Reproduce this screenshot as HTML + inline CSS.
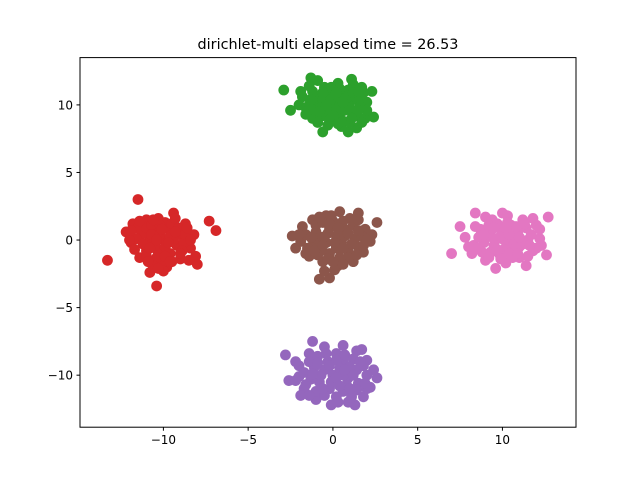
<!DOCTYPE html>
<html><head><meta charset="utf-8"><style>
body{margin:0;background:#fff}
svg{display:block;font-family:"DejaVu Sans","Liberation Sans",sans-serif}
</style></head><body>
<svg id="chart" width="640" height="480">
<rect width="640" height="480" fill="#fff"/>
<text x="328" y="49" text-anchor="middle" font-size="14.4">dirichlet-multi elapsed time = 26.53</text>
<g id="pts"></g>
<rect x="80" y="57.6" width="496" height="369.6" fill="none" stroke="#000" stroke-width="1"/>
<g id="axes"></g>
</svg>
<script>
const xTicks=[-10,-5,0,5,10];
const yTicks=[-10,-5,0,5,10];
const greenPts=[[-2.9,11.1],[-2.5,9.6],[2.4,9.1],[2.3,11],[-1.3,12],[0.9,8],[-0.6,8],[-0.9,11.8],[0.3,11.6],[1.2,11.5],[1.8,10.9],[-1.8,10.6],[-1.6,9.8],[-1.2,9],[-0.3,8.5],[0.5,8.4],[1.4,8.3],[1.9,9],[2,10.2],[-0.9,10.2],[-0.2,10.8],[0.6,10.9],[1.3,10.4],[-0.3,9.6],[0.5,9.5],[1.2,9.4],[0.1,10.1],[-0.6,9.2],[0.9,10],[-1.2,11],[0.2,9],[1.6,9.9],[-0.5,11.3],[0.9,11.1],
[-1.4,10],[-1,10.6],[-0.6,10.4],[-0.1,10.4],[0.3,10.6],[0.8,10.5],[1.2,10.9],[1.6,10.5],[-1.1,9.6],[-0.7,9.8],[-0.1,9.4],[0.3,9.7],[0.7,9.6],[1,9.8],[1.4,9.2],[-0.9,8.7],[-0.2,8.9],[0.6,8.8],[1,8.7],[-0.1,11.3],[0.4,11.2],[-1.4,11.4],[1.7,11.3],[-2,10],[2,9.6],
[-0.4,10],[0.6,10.2],[1.5,9.6],[-1.3,10.4],[0,9.2],[1.1,9],[-0.8,9.5],[0.2,10.9],[1.5,11],[-0.6,10.9],[-1.6,9.3],[1.7,8.7],[0.3,8.6],[-1.9,11],[1.1,11.9]];
const redPts=[[-13.3,-1.5],[-11.5,3],[-10.4,-3.4],[-7.3,1.4],[-6.9,0.7],[-8,-1.8],[-11.4,-1.3],[-10.8,-2.4],[-12.2,0.6],[-11.8,1.2],[-11,1.5],[-10.3,1.6],[-9.4,2],[-8.7,1.2],[-8.2,0.4],[-8.4,-0.6],[-9,-1.4],[-9.8,-2],[-11,-0.8],[-11.9,-0.2],[-10.5,0.7],[-9.7,0.8],[-9,0.4],[-10.8,0],[-10,0],[-9.2,-0.4],[-10.3,-0.9],[-9.6,-1],[-11.3,0.4],[-8.8,-0.2],[-10.1,-1.7],[-11.6,0.1],[-9.9,1.3],[-8.1,-1.2],
[-11.5,0.9],[-11,0.9],[-10.7,1.1],[-10.2,1.1],[-9.5,1.2],[-9.1,0.9],[-11.2,-0.3],[-10.5,-0.4],[-9.9,-0.5],[-9.4,0],[-8.7,0.4],[-10.7,0.4],[-10.2,0.4],[-9.6,0.3],[-11,-1.2],[-10.4,-1.3],[-9.5,-1.6],[-8.9,-0.8],[-12,0],[-11.7,-0.7],[-10.6,-1.9],[-9.3,1.6],[-8.5,-1.5],[-10,-2.3],
[-10.4,0],[-9.7,-0.2],[-9,-1],[-10.8,-0.6],[-11.4,1.4],[-10.1,0.8],[-9.3,0.6],[-10.6,1.5],[-8.6,0.9],[-9.9,-1.2],[-10.9,-1.6],[-11.9,0.7],[-8.4,0],[-9.6,-1.6],[-10.3,-2.1]];
const brownPts=[[-0.8,-2.9],[-0.2,-2.8],[2.6,1.3],[1.5,2],[-2.4,0.3],[-2.2,-0.6],[-1.8,1],[-1.2,1.5],[-0.4,1.8],[0.4,2.1],[1,1.6],[1.9,0.8],[2.2,-0.1],[1.8,-0.9],[1.2,-1.6],[0.3,-1.9],[-0.6,-1.6],[-1.4,-1.2],[-1.9,-0.1],[-1,0.6],[-0.2,0.9],[0.7,0.8],[1.3,0.1],[-1.2,-0.4],[-0.4,-0.2],[0.5,-0.1],[0.9,-0.8],[-0.2,-1],[0.2,0.3],[-0.7,-0.8],[1.5,-0.5],[0.1,-2.2],
[-1.6,0.4],[-1.5,-0.6],[-1,1.1],[-0.6,1.3],[0,1.4],[0.6,1.4],[1.2,1.1],[1.7,0.3],[1.8,-0.4],[-0.9,0.1],[-0.3,0.5],[0.2,-0.6],[0.7,0.3],[1.1,-0.3],[-0.9,-1.1],[-0.3,-1.4],[0.4,-1.3],[0.9,-1.3],[-1.6,-1],[-0.1,1.8],[1.5,1.5],[-0.5,-2.3],[0.6,-1.8],[2.3,0.4],
[-0.6,0.2],[0.1,-0.2],[0.9,0.5],[-1.3,0.2],[-0.2,1.2],[1.5,0.7],[0.3,0.9],[-1.1,-0.8],[0,-1.6],[1.4,-1.1],[-0.6,-0.4],[0.6,-0.6],[2,0],[-2,0.4],[-0.8,1.7]];
const pinkPts=[[7,-1],[12.7,1.7],[12.6,-1.1],[9.6,-2.1],[8.4,2],[11.4,-1.9],[7.5,1],[8.3,-0.4],[8.7,0.8],[9.4,1.5],[10.3,1.8],[11.2,1.5],[12,1.1],[12.2,0.1],[11.8,-0.8],[11,-1.3],[10.2,-1.7],[9,-1.5],[8.2,-1],[9.2,0.5],[10,0.6],[10.9,0.5],[11.5,0],[9.5,-0.4],[10.3,-0.3],[11,-0.5],[8.9,-0.2],[9.8,-1],[10.5,1.1],[7.8,0.2],[12.3,-0.4],[10.6,-0.9],
[8.6,0.2],[8.8,-0.9],[9.2,1.1],[9.7,1.2],[10.3,1.3],[10.8,1],[11.4,0.9],[11.7,0.4],[9.6,0],[10.1,0],[10.7,0],[11.2,-0.3],[9.3,-0.9],[10.1,-0.7],[10.8,-0.6],[9.2,-1.3],[9.9,-1.4],[10.6,-1.3],[11.5,-1.2],[8,-0.5],[12,-0.6],[9,1.7],[11.8,1.6],[10,2],
[9.9,0.3],[10.4,0.4],[9.4,0.2],[11,0.2],[9.7,-0.7],[10.4,-1],[8.9,0.4],[11.3,1.2],[8.5,-0.6],[11.6,-0.4],[10.2,0.9],[9.5,0.9],[10.9,-1],[8.4,1],[12.2,0.8]];
const purplePts=[[-2.8,-8.5],[-2.6,-10.4],[-1.2,-7.5],[2.6,-10.2],[1.3,-12.2],[-2,-9.3],[-1.4,-8.4],[-0.5,-7.9],[0.6,-7.8],[1.4,-8.2],[2,-8.9],[2.4,-9.6],[2.2,-10.9],[1.8,-11.6],[0.9,-12],[-0.1,-12.2],[-1,-11.8],[-1.7,-11],[-2,-10.1],[-1.1,-9.4],[-0.3,-9],[0.6,-9],[1.4,-9.6],[-0.8,-10.5],[0,-10],[0.9,-10.2],[1.5,-10.6],[-0.2,-11],[0.6,-11.2],[-1.3,-10.3],[0.2,-8.4],[1.1,-11.6],
[-1.7,-9.8],[-1.4,-9],[-0.9,-8.6],[-0.4,-8.4],[0.2,-8.9],[0.7,-8.5],[1.2,-8.8],[1.8,-9.3],[-1.6,-10.7],[-0.5,-9.6],[0.4,-9.5],[1,-9.4],[2,-10],[-1,-11.2],[-0.5,-11.5],[0.2,-11.6],[0.8,-10.7],[1.4,-11.1],[2,-11],[-1.9,-11.5],[-0.1,-10.5],[0.6,-10],[-2.2,-9],[1.7,-8.1],
[-0.7,-10],[0.2,-10.2],[1.2,-10],[-1.2,-9.9],[-0.2,-9.3],[0.7,-9.6],[1.6,-9],[-0.6,-11],[0.4,-10.8],[1,-11],[-1.4,-11.5],[0.3,-12],[-0.9,-9.1],[1.9,-10.6],[-2.2,-10.4]];
const seriesColors=["#2ca02c","#d62728","#8c564b","#e377c2","#9467bd"];
const seriesNames=["cluster-green","cluster-red","cluster-brown","cluster-pink","cluster-purple"];
const allSeries=[greenPts,redPts,brownPts,pinkPts,purplePts];
const X0=80,X1=576,Y0=57.6,Y1=427.2,xmin=-14.92,xmax=14.34,ymin=-13.85,ymax=13.5;
const sx=v=>X0+(v-xmin)/(xmax-xmin)*(X1-X0);
const sy=v=>Y1-(v-ymin)/(ymax-ymin)*(Y1-Y0);
const NS="http://www.w3.org/2000/svg";
const pg=document.getElementById('pts');
allSeries.forEach((s,i)=>{
  const g=document.createElementNS(NS,'g');
  
  
  s.forEach(p=>{
    const c=document.createElementNS(NS,'circle');
    c.setAttribute('cx',sx(p[0]));c.setAttribute('cy',sy(p[1]));
    c.setAttribute('r',5.4);c.setAttribute('fill',seriesColors[i]);
    
    
    g.appendChild(c);
  });
  pg.appendChild(g);
});
const ax=document.getElementById('axes');
xTicks.forEach(t=>{
  const l=document.createElementNS(NS,'line');
  l.setAttribute('x1',sx(t));l.setAttribute('x2',sx(t));l.setAttribute('y1',Y1);l.setAttribute('y2',Y1+3.5);l.setAttribute('stroke','#000');
  
  
  ax.appendChild(l);
  const tx=document.createElementNS(NS,'text');
  tx.setAttribute('x',sx(t));tx.setAttribute('y',Y1+17);tx.setAttribute('text-anchor','middle');tx.setAttribute('font-size','12');
  tx.textContent=t<0?'\u2212'+(-t):t;
  
  
  ax.appendChild(tx);
});
yTicks.forEach(t=>{
  const l=document.createElementNS(NS,'line');
  l.setAttribute('x1',X0-3.5);l.setAttribute('x2',X0);l.setAttribute('y1',sy(t));l.setAttribute('y2',sy(t));l.setAttribute('stroke','#000');
  
  
  ax.appendChild(l);
  const tx=document.createElementNS(NS,'text');
  tx.setAttribute('x',X0-7);tx.setAttribute('y',sy(t)+4.5);tx.setAttribute('text-anchor','end');tx.setAttribute('font-size','12');
  tx.textContent=t<0?'\u2212'+(-t):t;
  
  
  ax.appendChild(tx);
});
</script>
</body></html>
